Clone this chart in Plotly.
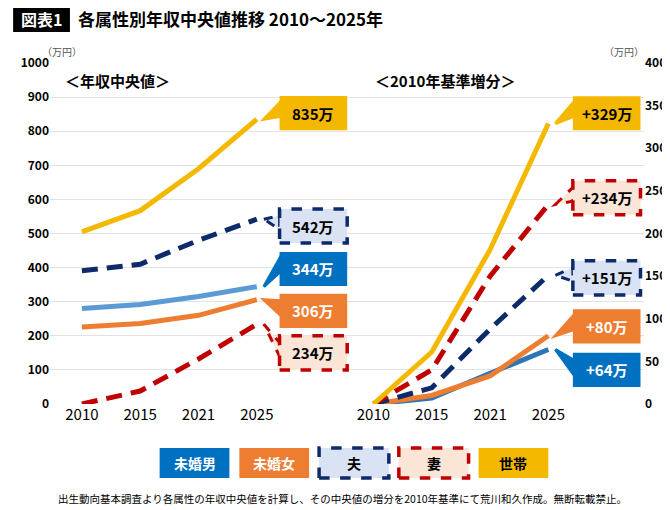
import plotly.graph_objects as go

years = ["2010", "2015", "2021", "2025"]
groups = ["未婚男", "未婚女", "夫", "妻", "世帯"]

# left: median income (万円)
median_vals = {
    "世帯": [505, 567, 690, 835],
    "夫": [391, 410, 480, 542],
    "未婚男": [280, 292, 315, 344],
    "未婚女": [226, 236, 260, 306],
    "妻": [0, 38, 132, 234],
}
# right: increase vs 2010 (万円)
incr_vals = {
    "世帯": [0, 61, 181, 329],
    "妻": [0, 40, 150, 234],
    "夫": [0, 19, 88, 151],
    "未婚女": [0, 10, 33, 80],
    "未婚男": [0, 7, 36, 64],
}
median_labels = {"世帯": "835万", "夫": "542万", "未婚男": "344万", "未婚女": "306万", "妻": "234万"}
incr_labels = {"世帯": "+329万", "妻": "+234万", "夫": "+151万", "未婚女": "+80万", "未婚男": "+64万"}

style = {
    "未婚男": dict(line="#5B9BD5", dash="solid", box="#0070C0", fill="#0070C0", font="white"),
    "未婚女": dict(line="#ED7D31", dash="solid", box="#ED7D31", fill="#ED7D31", font="white"),
    "夫": dict(line="#0D2B6B", dash="dash", box="#0D2B6B", fill="#DAE3F3", font="black"),
    "妻": dict(line="#C00000", dash="dash", box="#C00000", fill="#FBE5D6", font="black"),
    "世帯": dict(line="#F5B800", dash="solid", box="#F5B800", fill="#F5B800", font="black"),
}

FONT = "Noto Sans CJK JP"
LINEDASH = "16px,9px"
xl = [0, 1, 2, 3]
xr = [5, 6, 7, 8]

fig = go.Figure()
for g in groups:
    s = style[g]
    d = LINEDASH if s["dash"] == "dash" else "solid"
    fig.add_trace(go.Scatter(x=xl, y=median_vals[g], mode="lines", yaxis="y",
                             line=dict(color=s["line"], width=5, dash=d), showlegend=False))
    fig.add_trace(go.Scatter(x=xr, y=incr_vals[g], mode="lines", yaxis="y2",
                             line=dict(color="#2E75B6" if g == "未婚男" else s["line"], width=5, dash=d),
                             showlegend=False))

shapes = []
annotations = []

def callout(g, px, py, bx, by, yref, bw, bh, text):
    s = style[g]
    dash = "dash" if s["dash"] == "dash" else "solid"
    # tail
    shapes.append(dict(type="path", xref="x", yref=yref,
                       path=f"M {px + 0.12},{py} L {bx - bw / 2},{by + bh * 0.3} L {bx - bw / 2},{by - bh * 0.1} Z",
                       fillcolor=s["fill"], line=dict(color=s["box"], width=3, dash=dash)))
    shapes.append(dict(type="rect", xref="x", yref=yref, x0=bx - bw / 2, x1=bx + bw / 2,
                       y0=by - bh / 2, y1=by + bh / 2, fillcolor=s["fill"],
                       line=dict(color=s["box"], width=3.5 if dash == "dash" else 0, dash=dash)))
    annotations.append(dict(x=bx, y=by, xref="x", yref=yref, text=f"<b>{text}</b>", showarrow=False,
                            xanchor="center", yanchor="middle",
                            font=dict(size=15, color=s["font"], family=FONT)))

left_box_y = {"世帯": 853, "夫": 522, "未婚男": 396, "未婚女": 273, "妻": 150}
right_box_y = {"世帯": 341, "妻": 242, "夫": 148, "未婚女": 91, "未婚男": 40}
for g in groups:
    callout(g, 3, median_vals[g][-1], 3.97, left_box_y[g], "y", 1.16, 100, median_labels[g])
    callout(g, 8, incr_vals[g][-1], 9.0, right_box_y[g], "y2", 1.16, 40, incr_labels[g])

# paper coords from reference pixels
def px2x(p):
    return (p - 42) / 596

def py2y(p):
    return (403 - p) / 341

def label(px, py, text, size, color="black", xanchor="center"):
    annotations.append(dict(x=px2x(px), y=py2y(py), xref="paper", yref="paper", text=text, showarrow=False,
                            xanchor=xanchor, yanchor="middle", font=dict(size=size, color=color, family=FONT)))

for i, g in enumerate(groups):
    s = style[g]
    x0 = 152 + i * 80
    dash = "dash" if s["dash"] == "dash" else "solid"
    shapes.append(dict(type="rect", xref="paper", yref="paper", x0=px2x(x0), x1=px2x(x0 + 70),
                       y0=py2y(477), y1=py2y(447), fillcolor=s["fill"],
                       line=dict(color=s["box"], width=3.5 if dash == "dash" else 0, dash=dash)))
    label(x0 + 35, 462, f"<b>{g}</b>", 14, s["font"])

# title
shapes.append(dict(type="rect", xref="paper", yref="paper", x0=px2x(5), x1=px2x(62), y0=py2y(31), y1=py2y(5),
                   fillcolor="black", line=dict(width=0)))
label(33, 18, "<b>図表1</b>", 16, "white")
label(68, 18, "<b>各属性別年収中央値推移 2010～2025年</b>", 17, xanchor="left")
label(55, 80, "<b>＜年収中央値＞</b>", 15, xanchor="left")
label(366, 80, "<b>＜2010年基準増分＞</b>", 15, xanchor="left")
label(32, 50, "（万円）", 10, "#555", xanchor="left")
label(640, 50, "（万円）", 10, "#555", xanchor="right")
label(335, 497, "出生動向基本調査より各属性の年収中央値を計算し、その中央値の増分を2010年基準にて荒川和久作成。無断転載禁止。",
      10.5)

fig.update_layout(
    width=670, height=510,
    margin=dict(l=42, r=32, t=55, b=114),
    plot_bgcolor="white", paper_bgcolor="white",
    font=dict(family=FONT),
    xaxis=dict(range=[-0.547, 9.64], tickvals=xl + xr, ticktext=years + years, showgrid=False,
               zeroline=False, ticks="", tickfont=dict(size=15, color="black", family=FONT)),
    yaxis=dict(range=[0, 1000], dtick=100, gridcolor="#E3E3E3", zeroline=False,
               tickfont=dict(size=12, color="black", family=FONT)),
    yaxis2=dict(range=[0, 400], dtick=50, overlaying="y", side="right", showgrid=False, zeroline=False,
                tickfont=dict(size=12, color="black", family=FONT)),
    shapes=shapes, annotations=annotations,
)
fig.update_xaxes(tickprefix="<b>", ticksuffix="</b>")
fig.update_yaxes(tickprefix="<b>", ticksuffix="</b>")

fig.write_html("out.html")
